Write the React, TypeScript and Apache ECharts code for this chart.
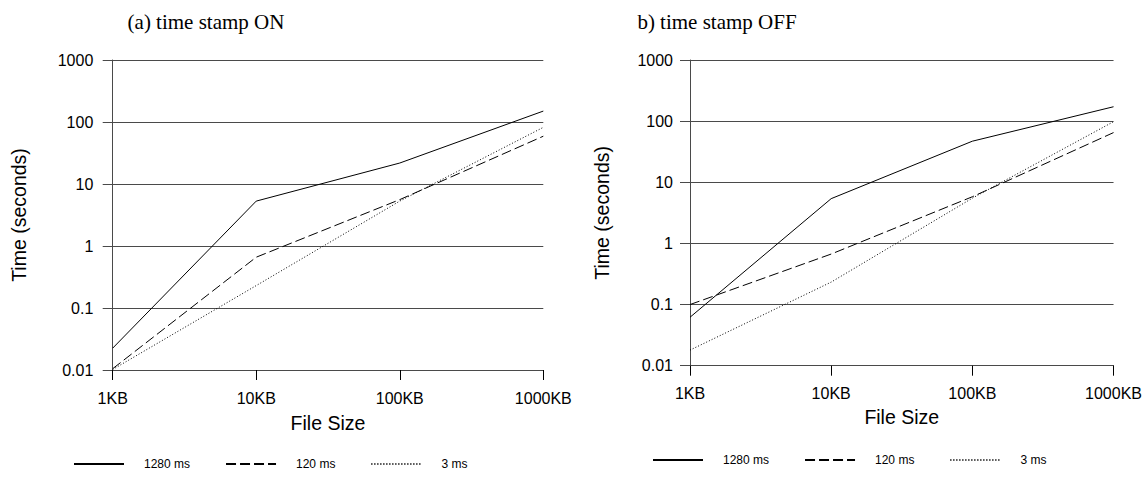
import React, { useEffect, useRef } from "react";
import * as echarts from "echarts";

const fileSizesKB = [1, 10, 100, 1000];
const seriesNames = ["1280 ms", "120 ms", "3 ms"];

// (a) time stamp ON
const onSlow = [0.0225, 5.3, 21.8, 150];
const onMid = [0.0105, 0.66, 5.6, 59];
const onFast = [0.0102, 0.23, 5.3, 82];

// b) time stamp OFF
const offSlow = [0.062, 5.4, 47, 172];
const offMid = [0.1, 0.67, 5.8, 65];
const offFast = [0.018, 0.233, 5.5, 98];

const panelTitles = ["(a) time stamp ON", "b) time stamp OFF"];
const xAxisName = "File Size";
const yAxisName = "Time (seconds)";

const SANS = "'Liberation Sans', Arial, sans-serif";
const SERIF = "'Liberation Serif', 'Times New Roman', serif";
const GRID = "#4a4a4a";

const dashTypes: any[] = ["solid", [10, 4], [1, 2]];

function yLabel(v: number) {
  const e = Math.round(Math.log10(v));
  return e < 0 ? Math.pow(10, e).toFixed(-e) : String(Math.pow(10, e));
}

export default function App() {
  const ref = useRef<HTMLDivElement>(null);
  useEffect(() => {
    if (!ref.current) return;
    const chart = echarts.init(ref.current, undefined, { renderer: "svg" });
    const panels = [
      { grid: { left: 112.7, top: 60, width: 430.6, height: 310 }, data: [onSlow, onMid, onFast], xLM: 20, yLM: 19.4, yNG: 84, xNG: 43 },
      { grid: { left: 690, top: 60, width: 424.3, height: 305.7 }, data: [offSlow, offMid, offFast], xLM: 19.5, yLM: 17, yNG: 78, xNG: 41 },
    ];
    const series: any[] = [];
    panels.forEach((p, pi) => {
      p.data.forEach((vals, si) => {
        series.push({
          name: seriesNames[si],
          type: "line",
          xAxisIndex: pi,
          yAxisIndex: pi,
          showSymbol: false,
          symbol: "none",
          silent: true,
          lineStyle: { color: "#000", width: 1, type: dashTypes[si] },
          itemStyle: { color: "#000" },
          data: fileSizesKB.map((s, i) => [s, vals[i]]),
        });
      });
    });
    const legendBase = {
      data: seriesNames,
      itemWidth: 50,
      itemHeight: 10,
      padding: 0,
      itemStyle: { color: "rgba(0,0,0,0)", opacity: 0, borderWidth: 0 },
      textStyle: { fontFamily: SANS, fontSize: 12, color: "#000", padding: [0, 0, 0, 15], width: 47 },
    };
    const option: any = {
      animation: false,
      backgroundColor: "#fff",
      title: [
        { text: panelTitles[0], left: 201, top: 6, textAlign: "center", textStyle: { fontFamily: SERIF, fontSize: 21, fontWeight: "normal", color: "#000" } },
        { text: panelTitles[1], left: 712, top: 6, textAlign: "center", textStyle: { fontFamily: SERIF, fontSize: 21, fontWeight: "normal", color: "#000" } },
      ],
      legend: [
        { ...legendBase, left: 73, top: 458, itemGap: 35 },
        { ...legendBase, left: 652, top: 454, itemGap: 35 },
      ],
      grid: panels.map((p) => ({ ...p.grid, containLabel: false })),
      xAxis: panels.map((p, pi) => ({
        type: "log",
        logBase: 10,
        gridIndex: pi,
        min: 1,
        max: 1000,
        name: xAxisName,
        nameLocation: "middle",
        nameGap: p.xNG,
        nameTextStyle: { fontFamily: SANS, fontSize: 19.5, color: "#000" },
        axisLine: { show: true, lineStyle: { color: GRID, width: 1 } },
        axisTick: { show: true, length: 10, lineStyle: { color: "#000", width: 1 } },
        axisLabel: { margin: p.xLM, fontFamily: SANS, fontSize: 16, color: "#000", formatter: (v: number) => `${Math.round(v)}KB` },
        splitLine: { show: false },
        minorTick: { show: false },
      })),
      yAxis: panels.map((p, pi) => ({
        type: "log",
        logBase: 10,
        gridIndex: pi,
        min: 0.01,
        max: 1000,
        name: yAxisName,
        nameLocation: "middle",
        nameGap: p.yNG,
        nameTextStyle: { fontFamily: SANS, fontSize: 19.5, color: "#000" },
        axisLine: { show: true, lineStyle: { color: GRID, width: 1 } },
        axisTick: { show: true, length: 10, lineStyle: { color: GRID, width: 1 } },
        axisLabel: { margin: p.yLM, fontFamily: SANS, fontSize: 16, color: "#000", formatter: yLabel },
        splitLine: { show: true, lineStyle: { color: GRID, width: 1 } },
      })),
      series,
    };
    chart.setOption(option);
    return () => chart.dispose();
  }, []);
  return <div ref={ref} style={{ position: "absolute", left: 0, top: 0, width: 1145, height: 479 }} />;
}
